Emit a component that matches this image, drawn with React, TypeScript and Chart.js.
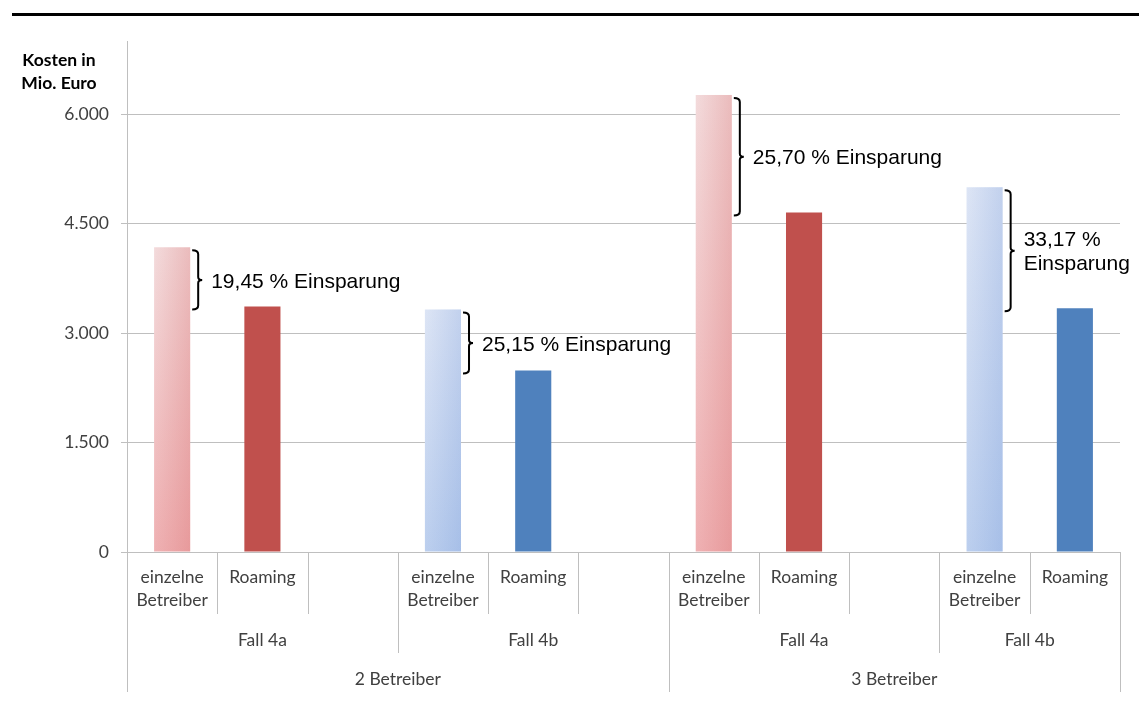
import React, { useEffect, useRef } from 'react';
import { Chart, registerables } from 'chart.js';

Chart.register(...registerables);

// Leaf categories (one slot each, empty slots keep the groups apart)
const leafLabels: (string | string[])[] = [
  ['einzelne', 'Betreiber'], 'Roaming', '',
  ['einzelne', 'Betreiber'], 'Roaming', '',
  ['einzelne', 'Betreiber'], 'Roaming', '',
  ['einzelne', 'Betreiber'], 'Roaming',
];

// Second level: Fall groups and how many leaf slots each covers
const fallNames = ['Fall 4a', 'Fall 4b', 'Fall 4a', 'Fall 4b'];
const fallSpans = [3, 3, 3, 2];

// Third level: number of operators
const betreiberNames = ['2 Betreiber', '3 Betreiber'];
const betreiberSpans = [6, 5];

// Costs in Mio. Euro, one value per Fall group
const einzelneKosten = [4174, 3323, 6261, 4998];
const roamingKosten = [3362, 2487, 4652, 3340];
const einsparungProzent = [19.45, 25.15, 25.7, 33.17];

const yTicks = [0, 1500, 3000, 4500, 6000];
const yMax = 7000;
const yTitle = ['Kosten in', 'Mio. Euro'];

type Palette = { top: string; bottom: string; shade: string; shadeClear: string; solid: string };
const palettes: Record<string, Palette> = {
  'Fall 4a': {
    top: '#F3DBDC',
    bottom: '#EFB1B3',
    shade: 'rgba(200,60,60,0.20)',
    shadeClear: 'rgba(200,60,60,0)',
    solid: '#C0504D',
  },
  'Fall 4b': {
    top: '#DDE5F5',
    bottom: '#BCCFEE',
    shade: 'rgba(60,110,200,0.17)',
    shadeClear: 'rgba(60,110,200,0)',
    solid: '#4F81BD',
  },
};

const fallStart = fallSpans.map((_, i) => fallSpans.slice(0, i).reduce((a, b) => a + b, 0));
const caseOfSlot = (slot: number) => fallStart.indexOf(slot);
const caseOfRoamingSlot = (slot: number) => fallStart.indexOf(slot - 1);

const einzelneData = leafLabels.map((_, i) => {
  const k = caseOfSlot(i);
  return k >= 0 ? einzelneKosten[k] : null;
});
const roamingData = leafLabels.map((_, i) => {
  const k = caseOfRoamingSlot(i);
  return k >= 0 ? roamingKosten[k] : null;
});

const formatDe = (v: number) => String(v).replace(/\B(?=(\d{3})+(?!\d))/g, '.');
const formatPct = (v: number) => v.toFixed(2).replace('.', ',') + ' % Einsparung';

const LABEL_FONT = 'Lato, "Open Sans", sans-serif';
const LABEL_COLOR = '#404040';
const SEP_COLOR = '#BFBFBF';

function drawBrace(ctx: CanvasRenderingContext2D, x: number, y1: number, y2: number) {
  const w = 6;
  const tip = 4;
  const mid = (y1 + y2) / 2;
  ctx.beginPath();
  ctx.moveTo(x, y1);
  ctx.quadraticCurveTo(x + w, y1, x + w, y1 + 4);
  ctx.lineTo(x + w, mid - 3);
  ctx.quadraticCurveTo(x + w, mid, x + w + tip, mid);
  ctx.quadraticCurveTo(x + w, mid, x + w, mid + 3);
  ctx.lineTo(x + w, y2 - 4);
  ctx.quadraticCurveTo(x + w, y2, x, y2);
  ctx.stroke();
  return x + w + tip;
}

const decorations = {
  id: 'decorations',
  afterDatasetsDraw(chart: any) {
    const ctx: CanvasRenderingContext2D = chart.ctx;
    const ys = chart.scales.y;
    const meta = chart.getDatasetMeta(0);
    ctx.save();
    // horizontal shading across the gradient bars
    fallStart.forEach((slot, k) => {
      const el = meta.data[slot];
      if (!el) return;
      const { x, y, base, width } = el.getProps(['x', 'y', 'base', 'width'], true);
      const pal = palettes[fallNames[k]];
      const g = ctx.createLinearGradient(x - width / 2, 0, x + width / 2, 0);
      g.addColorStop(0, pal.shadeClear);
      g.addColorStop(1, pal.shade);
      ctx.fillStyle = g;
      ctx.fillRect(x - width / 2, y, width, base - y);
    });

    // savings braces and labels
    ctx.strokeStyle = '#000';
    ctx.lineWidth = 2;
    ctx.fillStyle = '#000';
    ctx.font = '21px "Liberation Sans", Arial, sans-serif';
    ctx.textBaseline = 'middle';
    ctx.textAlign = 'left';
    fallStart.forEach((slot, k) => {
      const el = meta.data[slot];
      if (!el) return;
      const { x, width } = el.getProps(['x', 'width'], true);
      const yTop = ys.getPixelForValue(einzelneKosten[k]) + 3;
      const yBot = ys.getPixelForValue(roamingKosten[k]) + 3;
      const tipX = drawBrace(ctx, x + width / 2 + 2, yTop, yBot);
      const tx = tipX + 9;
      const full = formatPct(einsparungProzent[k]);
      let lines = [full];
      if (tx + ctx.measureText(full).width > chart.width - 2) {
        const cut = full.lastIndexOf(' ');
        lines = [full.slice(0, cut), full.slice(cut + 1)];
      }
      const lh = 24;
      const midY = (yTop + yBot) / 2 + 2;
      lines.forEach((line, i) => {
        ctx.fillText(line, tx, midY + (i - (lines.length - 1) / 2) * lh);
      });
    });
    ctx.restore();
  },
  afterDraw(chart: any) {
    const ctx: CanvasRenderingContext2D = chart.ctx;
    const xs = chart.scales.x;
    const area = chart.chartArea;
    ctx.save();

    // rule across the top of the page
    ctx.fillStyle = '#000';
    ctx.fillRect(12, 13, chart.width - 12, 3);

    // axis title
    ctx.fillStyle = '#000';
    ctx.font = `bold 17.5px ${LABEL_FONT}`;
    ctx.textAlign = 'center';
    ctx.textBaseline = 'alphabetic';
    ctx.fillText(yTitle[0], 59, 66);
    ctx.fillText(yTitle[1], 59, 89);

    // separators of the three category levels
    const n = leafLabels.length;
    const boundary = (i: number) => {
      if (i <= 0) return area.left;
      if (i >= n) return area.right;
      return (xs.getPixelForValue(i - 1) + xs.getPixelForValue(i)) / 2;
    };
    const fallBounds = new Set<number>();
    fallStart.forEach((s) => fallBounds.add(s));
    const betreiberBounds = new Set<number>();
    let acc = 0;
    betreiberSpans.forEach((s) => {
      betreiberBounds.add(acc);
      acc += s;
    });
    betreiberBounds.add(n);
    ctx.strokeStyle = SEP_COLOR;
    ctx.lineWidth = 1;
    for (let i = 0; i <= n; i++) {
      let len = 62;
      if (fallBounds.has(i)) len = 101;
      if (betreiberBounds.has(i)) len = 140;
      const bx = Math.round(boundary(i)) + 0.5;
      ctx.beginPath();
      ctx.moveTo(bx, area.bottom);
      ctx.lineTo(bx, area.bottom + len);
      ctx.stroke();
    }

    // second and third level labels
    ctx.fillStyle = LABEL_COLOR;
    ctx.font = `17.5px ${LABEL_FONT}`;
    ctx.textAlign = 'center';
    fallNames.forEach((name, k) => {
      const cx = (boundary(fallStart[k]) + boundary(fallStart[k] + fallSpans[k])) / 2;
      ctx.fillText(name, cx, area.bottom + 94);
    });
    let start = 0;
    betreiberNames.forEach((name, k) => {
      const cx = (boundary(start) + boundary(start + betreiberSpans[k])) / 2;
      ctx.fillText(name, cx, area.bottom + 133);
      start += betreiberSpans[k];
    });
    ctx.restore();
  },
};

export default function App() {
  const canvasRef = useRef<HTMLCanvasElement | null>(null);

  useEffect(() => {
    const canvas = canvasRef.current;
    if (!canvas) return;

    const einzelneColor = (c: any) => {
      const k = caseOfSlot(c.dataIndex);
      const pal = palettes[fallNames[Math.max(k, 0)]];
      const chart = c.chart;
      const ys = chart.scales?.y;
      if (k < 0 || !chart.chartArea || !ys) return pal.top;
      const top = ys.getPixelForValue(einzelneKosten[k]);
      const base = ys.getPixelForValue(0);
      const g = chart.ctx.createLinearGradient(0, top, 0, base);
      g.addColorStop(0, pal.top);
      g.addColorStop(1, pal.bottom);
      return g;
    };
    const roamingColor = (c: any) => {
      const k = caseOfRoamingSlot(c.dataIndex);
      return palettes[fallNames[Math.max(k, 0)]].solid;
    };

    const chart = new Chart(canvas, {
      type: 'bar',
      data: {
        labels: leafLabels as any,
        datasets: [
          {
            label: 'einzelne Betreiber',
            data: einzelneData as any,
            backgroundColor: einzelneColor as any,
            borderWidth: 0,
          },
          {
            label: 'Roaming',
            data: roamingData as any,
            backgroundColor: roamingColor as any,
            borderWidth: 0,
          },
        ],
      },
      options: {
        responsive: false,
        animation: false,
        events: [],
        layout: { padding: { top: 41, right: 19, left: 0, bottom: 0 } },
        datasets: {
          bar: { grouped: false, barPercentage: 0.4, categoryPercentage: 1 },
        },
        plugins: {
          legend: { display: false },
          tooltip: { enabled: false },
          title: { display: false },
        },
        scales: {
          x: {
            type: 'category',
            offset: true,
            grid: { display: false, drawTicks: false },
            border: { display: false },
            ticks: {
              autoSkip: false,
              maxRotation: 0,
              minRotation: 0,
              padding: 14,
              color: LABEL_COLOR,
              font: { family: LABEL_FONT, size: 17.5, lineHeight: 1.32 },
            },
            afterFit: (s: any) => {
              s.height = 154;
            },
          },
          y: {
            min: 0,
            max: yMax,
            grid: { color: SEP_COLOR, lineWidth: 1, drawTicks: true, tickLength: 6 },
            border: { display: true, color: SEP_COLOR, width: 1 },
            ticks: {
              padding: 12,
              color: LABEL_COLOR,
              font: { family: LABEL_FONT, size: 17.5 },
              callback: (v: any) => formatDe(Number(v)),
            },
            afterBuildTicks: (s: any) => {
              s.ticks = yTicks.map((v) => ({ value: v }));
            },
            afterFit: (s: any) => {
              s.width = 127;
            },
          },
        },
      },
      plugins: [decorations],
    });

    let alive = true;
    Promise.all([
      document.fonts.load(`17px Lato`),
      document.fonts.load(`bold 17px Lato`),
      document.fonts.load('21px "Liberation Sans"'),
    ])
      .then(() => {
        if (alive) chart.update();
      })
      .catch(() => {});

    return () => {
      alive = false;
      chart.destroy();
    };
  }, []);

  return (
    <canvas
      ref={canvasRef}
      width={1139}
      height={706}
      style={{ position: 'fixed', left: 0, top: 0, width: 1139, height: 706, display: 'block', background: '#fff' }}
    />
  );
}
